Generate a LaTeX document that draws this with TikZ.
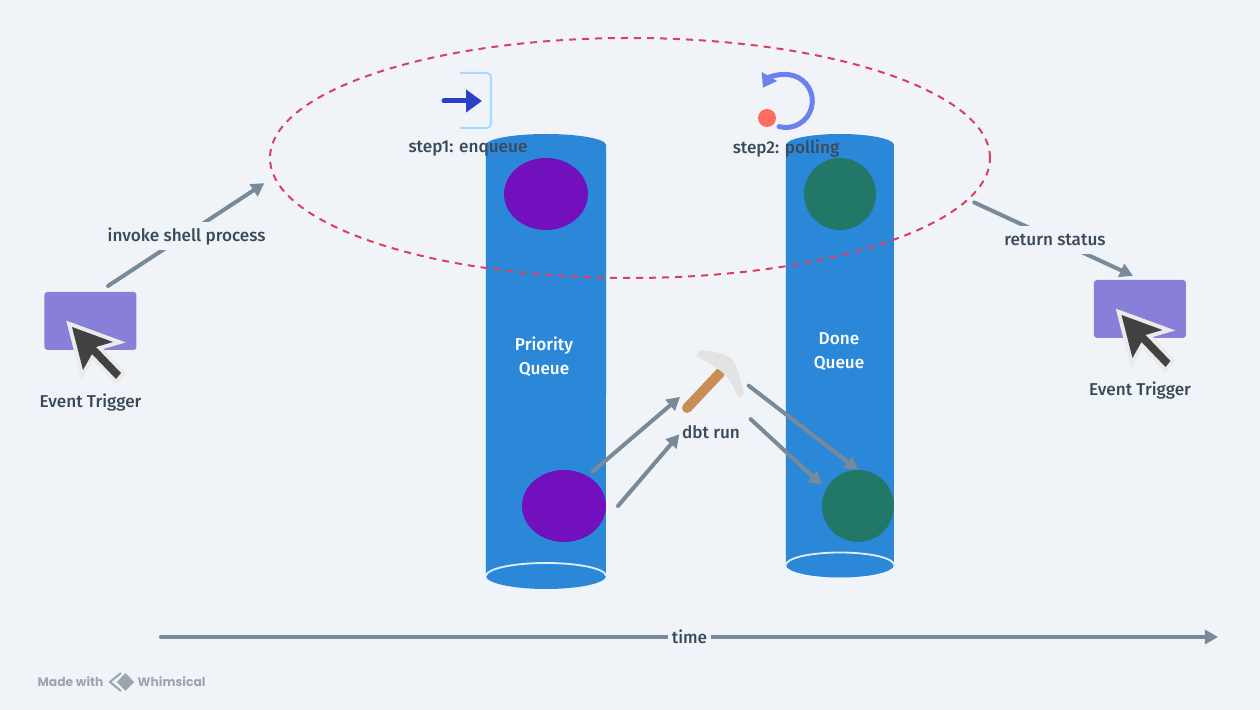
\documentclass[tikz,border=0pt]{standalone}
\usepackage{fontspec}
\setmainfont{Fira Sans Medium}
\newfontfamily\logofont{Poppins}
\definecolor{wbg}{HTML}{F0F4F8}
\definecolor{wblue}{HTML}{2B88D9}
\definecolor{wpurple}{HTML}{7210BE}
\definecolor{wgreen}{HTML}{217867}
\definecolor{wlilac}{HTML}{8880D8}
\definecolor{wred}{HTML}{D8405F}
\definecolor{wslate}{HTML}{788A99}
\definecolor{wink}{HTML}{3A4A5A}
\definecolor{wlogo}{HTML}{9AA5B1}
\definecolor{wnavy}{HTML}{2D3FC5}
\definecolor{wperi}{HTML}{6B82EE}
\definecolor{wcoral}{HTML}{FF6B5E}
\definecolor{wsky}{HTML}{A6DBFB}
\definecolor{wwood}{HTML}{C68E55}
\usetikzlibrary{arrows.meta,positioning,shapes.geometric,calc}
\tikzset{
  flow/.style={-{Stealth[inset=0pt,length=.13cm,width=.14cm]}, line width=.04cm, line cap=round, wslate},
  label/.style={font=\fontsize{4.88}{6.8}\selectfont, text=wink, inner sep=0pt, align=center},
  gaplabel/.style={label, fill=wbg, minimum height=.28cm, inner xsep=.04cm},
  qlabel/.style={font=\fontsize{4.88}{6.8}\selectfont, text=white, inner sep=0pt, align=center},
  qwhite/.style={draw=white!85!wblue, line width=.018cm},
  trigger/.style={fill=wlilac, rounded corners=.03cm, minimum width=.92cm, minimum height=.58cm, inner sep=0pt, outer sep=0pt},
  jobpurple/.style={fill=wpurple, ellipse, minimum width=.84cm, minimum height=.72cm, inner sep=0pt, outer sep=0pt},
  jobgreen/.style={fill=wgreen, circle, minimum size=.72cm, inner sep=0pt, outer sep=0pt},
  logotext/.style={font=\logofont\fontsize{3.5}{4}\selectfont\bfseries, text=wlogo, inner sep=0pt},
  cursor/.pic={
    \draw[draw=black!8, line width=.08cm, line join=miter, fill=black!8] (-.185,-.06) -- (.225,-.21) -- (.055,-.26) -- (.305,-.52) -- (.255,-.58) -- (.015,-.33) -- (-.075,-.49) -- cycle;
    \fill[black!74] (-.185,-.06) -- (.225,-.21) -- (.055,-.26) -- (.305,-.52) -- (.255,-.58) -- (.015,-.33) -- (-.075,-.49) -- cycle;
  }
}
\begin{document}
\begin{tikzpicture}
  \fill[wbg] (0,0) rectangle (12.6,7.1);
  % Queues
  \fill[wblue] (4.86,1.34) -- (4.86,5.65) arc[start angle=180, end angle=0, x radius=.6, y radius=.11] -- (6.06,1.34) arc[start angle=0, end angle=-180, x radius=.6, y radius=.13] -- cycle;
  \draw[qwhite] (4.86,1.34) arc[start angle=180, end angle=0, x radius=.6, y radius=.13];
  \fill[wblue] (7.86,1.45) -- (7.86,5.65) arc[start angle=180, end angle=0, x radius=.54, y radius=.11] -- (8.94,1.45) arc[start angle=0, end angle=-180, x radius=.54, y radius=.125] -- cycle;
  \draw[qwhite] (7.86,1.45) arc[start angle=180, end angle=0, x radius=.54, y radius=.125];
  \node[qlabel] (pqname) at (5.44,3.53) {Priority\\Queue};
  \node[qlabel] (dqname) at (8.39,3.58) {Done\\Queue};
  % Jobs
  \node[jobpurple] (pqtop) at (5.46,5.16) {};
  \node[jobpurple] (pqlow) at (5.64,2.04) {};
  \node[jobgreen] (dqtop) at (8.40,5.16) {};
  \node[jobgreen] (dqlow) at (8.58,2.04) {};
  % Triggers
  \node[trigger] (trigA) at (.905,3.89) {};
  \node[trigger] (trigB) at (11.40,4.01) {};
  \pic at (trigA.center) {cursor};
  \pic at (trigB.center) {cursor};
  \node[label] (trigAname) at (.905,3.07) {Event Trigger};
  \node[label] (trigBname) at (11.40,3.19) {Event Trigger};
  % Loop
  \node[draw=wred, dashed, dash pattern=on .07cm off .06cm, line width=.02cm, ellipse, minimum width=7.2cm, minimum height=2.4cm, inner sep=0pt, outer sep=0pt] (loop) at (6.30,5.52) {};
  % Step icons
  \draw[draw=wsky, line width=.02cm, rounded corners=.04cm] (4.60,6.37) -- (4.91,6.37) -- (4.91,5.82) -- (4.60,5.82);
  \draw[-{Triangle[length=.16cm,width=.22cm]}, line width=.05cm, line cap=round, wnavy] (4.44,6.09) -- (4.82,6.09);
  \draw[-{Triangle[length=.13cm,width=.17cm]}, line width=.05cm, line cap=round, wperi] (7.79,5.834) arc[start angle=-105, end angle=150, radius=.265];
  \fill[wcoral] (7.67,5.92) circle (.09);
  \node[label] (step1) at (4.68,5.61) {step1: enqueue};
  \node[label] (step2) at (7.86,5.61) {step2: polling};
  % Pick
  \node[minimum width=.64cm, minimum height=.62cm, inner sep=0pt, outer sep=0pt] (miner) at (7.12,3.28) {};
  \draw[line width=.1cm, line cap=round, wwood] (6.87,3.02) -- (7.20,3.37);
  \draw[line width=.05cm, black!18] (7.26,3.49) -- (7.32,3.43);
  \fill[black!11] (7.00,3.60) .. controls (7.34,3.555) .. (7.44,3.17) -- (7.39,3.12) .. controls (7.265,3.37) .. (6.96,3.54) -- cycle;
  \node[label] (dbt) at (7.11,2.78) {dbt run};
  % Arrows
  \draw[flow, shorten <=.07cm] (pqlow.52) -- (miner.205);
  \draw[flow, shorten >=.03cm] ($(pqlow.east)+(.12,0)$) -- (dbt.west);
  \draw[flow, shorten <=.06cm] (miner.east) -- (dqlow.north);
  \draw[flow, shorten <=.09cm, shorten >=.06cm] (miner.south east) -- (dqlow.152);
  \draw[flow, shorten <=.11cm, shorten >=.12cm] (trigA.74) -- node[gaplabel, pos=.5, yshift=-.02cm] (invoke) {invoke shell process} (loop.183.4);
  \draw[flow, shorten <=.07cm, shorten >=.1cm] (loop.-7.1) -- node[gaplabel, pos=.5] (status) {return status} (trigB.86);
  % Time
  \coordinate (timeL) at (1.61,.73);
  \coordinate (timeR) at (12.18,.73);
  \draw[flow] (timeL) -- node[gaplabel, midway] (time) {time} (timeR);
  % Logo
  \node[logotext, anchor=west] (made) at (.37,.28) {Made with};
  \node[logotext, anchor=west] (whim) at (1.37,.28) {Whimsical};
  \draw[wlogo, line width=.02cm] (1.21,.37) -- (1.10,.28) -- (1.21,.19);
  \fill[wlogo] (1.17,.28) -- (1.255,.37) -- (1.34,.28) -- (1.255,.19) -- cycle;
\end{tikzpicture}
\end{document}
